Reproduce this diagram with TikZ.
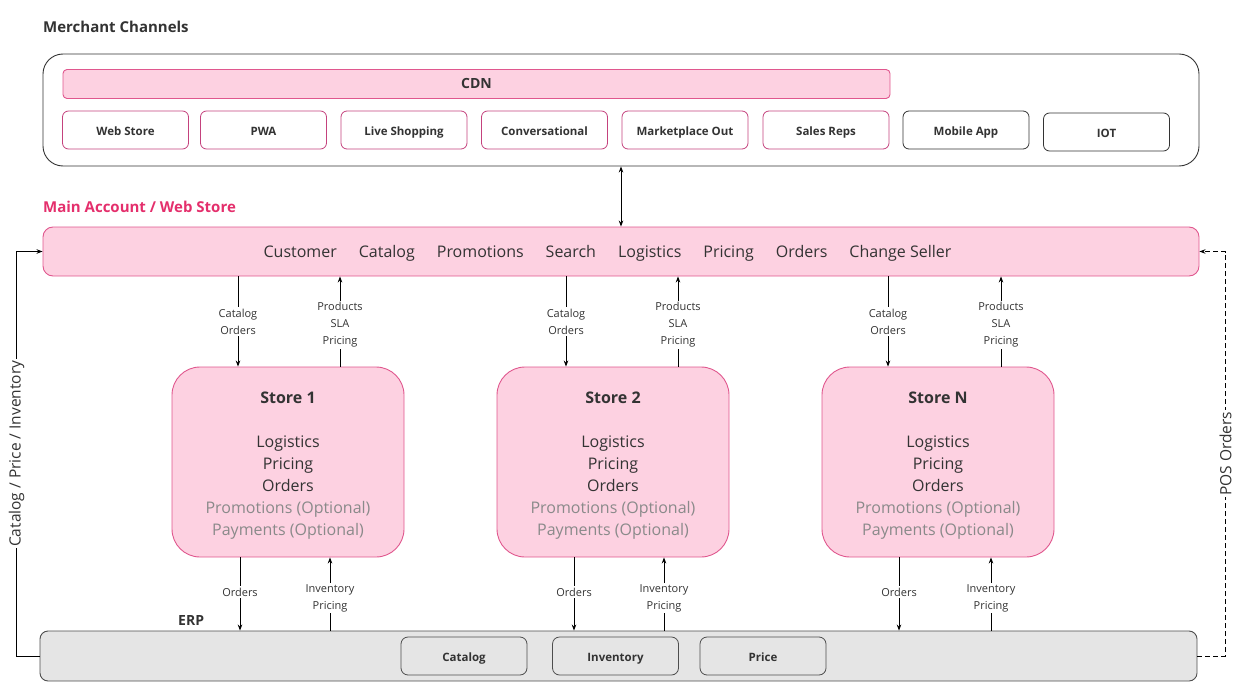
\documentclass[tikz,border=0pt]{standalone}
\usepackage{fontspec}
\setmainfont{Open Sans}
\usetikzlibrary{arrows.meta}
\definecolor{pinkfill}{HTML}{FDD1E1}
\definecolor{pinkline}{HTML}{E0578E}
\definecolor{chanline}{HTML}{C4427D}
\definecolor{titlepink}{HTML}{E42F6C}
\definecolor{textdark}{HTML}{333333}
\definecolor{textgray}{HTML}{8A8A8A}
\definecolor{erpfill}{HTML}{E5E5E5}
\definecolor{erpline}{HTML}{4D4D4D}
\begin{document}
\begin{tikzpicture}[x=1pt,y=-1pt,
  chanbox/.style={draw=chanline,fill=white,rounded corners=6pt,line width=0.8pt,
    minimum width=126pt,minimum height=38pt,inner sep=0pt,text height=10.5pt,text depth=0pt,
    font=\fontsize{11.5}{14}\selectfont\bfseries,text=textdark},
  pinkbar/.style={draw=pinkline,fill=pinkfill,line width=0.9pt,inner sep=0pt},
  storebox/.style={pinkbar,rounded corners=28pt,minimum width=232pt,minimum height=190pt},
  storetext/.style={align=center,inner sep=0pt,font=\fontsize{16}{22}\selectfont,text=textdark},
  erpbox/.style={draw=erpline,fill=erpfill,rounded corners=7pt,line width=0.8pt,
    minimum width=126pt,minimum height=38pt,inner sep=0pt,text height=10.5pt,text depth=0pt,
    font=\fontsize{11.5}{14}\selectfont\bfseries,text=textdark},
  title/.style={anchor=base west,inner sep=0pt,font=\fontsize{15}{18}\selectfont\bfseries},
  flow/.style={font=\fontsize{11}{17}\selectfont,text=textdark,fill=white,align=center,inner sep=1.5pt},
  side/.style={flow,rotate=90,font=\fontsize{15.5}{18}\selectfont},
  arr/.style={line width=0.8pt,-{Stealth[length=6pt,width=4.5pt]}},
]
\useasboundingbox (0,0) rectangle (1242,690);

% merchant channels
\node[title,text=textdark] (mctitle) at (43,33) {Merchant Channels};
\node[draw=black!80,rounded corners=20pt,line width=0.9pt,minimum width=1156pt,minimum height=112pt] (chan) at (621,110) {};
\node[pinkbar,rounded corners=4pt,minimum width=827pt,minimum height=29pt,
  font=\fontsize{14}{16}\selectfont\bfseries,text=textdark] (cdn) at (476.5,84) {CDN};
\foreach \n/\t/\x in {web/Web Store/125.5,pwa/PWA/263.5,live/Live Shopping/404,
    conv/Conversational/544.5,mkt/Marketplace Out/685,sales/Sales Reps/826}
  \node[chanbox] (\n) at (\x,130) {\t};
\node[chanbox,draw=black!80] (mobile) at (966,130) {Mobile App};
\node[chanbox,draw=black!80] (iot) at (1106.5,132) {IOT};

% main account
\node[title,text=titlepink] (matitle) at (43,212) {Main Account / Web Store};
\node[pinkbar,rounded corners=10pt,minimum width=1156pt,minimum height=49pt] (main) at (621,251.5) {};
\node[inner sep=0pt,font=\fontsize{16}{19}\selectfont,text=textdark] (mods) at (607.5,253.5)
  {Customer\hspace{22pt}Catalog\hspace{22pt}Promotions\hspace{22pt}Search\hspace{22pt}Logistics\hspace{22pt}Pricing\hspace{22pt}Orders\hspace{22pt}Change Seller};
\coordinate (cdnx) at (621,0);
\draw[line width=0.8pt,{Stealth[length=6pt,width=4.5pt]}-{Stealth[length=6pt,width=4.5pt]}] (chan.south -| cdnx) -- (main.north -| cdnx);

% stores
\foreach \n/\t/\x in {s1/Store 1/288,s2/Store 2/613,sN/Store N/938}{
  \node[storebox] (\n) at (\x,462) {};
  \node[storetext] (\n t) at (\x,466) {\textbf{\t}\\[22pt]Logistics\\Pricing\\Orders\\
    \textcolor{textgray}{Promotions (Optional)}\\\textcolor{textgray}{Payments (Optional)}};
}

% erp
\node[title,text=textdark,font=\fontsize{14}{16}\selectfont\bfseries] (erptitle) at (178,625) {ERP};
\node[draw=erpline,fill=erpfill,rounded corners=8pt,line width=0.9pt,minimum width=1157pt,minimum height=50pt] (erp) at (618.5,656) {};
\node[erpbox] (ecat) at (464,656) {Catalog};
\node[erpbox] (einv) at (615.5,656) {Inventory};
\node[erpbox] (eprice) at (763,656) {Price};

% flows between main, stores and erp
\foreach \s/\a/\b/\c/\d in {s1/238/340/240/330,s2/566/678/574/664,sN/888/1001/899/991}{
  \coordinate (da) at (\a,0);
  \coordinate (ub) at (\b,0);
  \coordinate (dc) at (\c,0);
  \coordinate (ud) at (\d,0);
  \draw[arr] (main.south -| da) -- node[flow] {Catalog\\Orders} (\s.north -| da);
  \draw[arr] (\s.north -| ub) -- node[flow,yshift=-3pt] {Products\\SLA\\Pricing} (main.south -| ub);
  \draw[arr] (\s.south -| dc) -- node[flow,yshift=2pt] {Orders} (erp.north -| dc);
  \draw[arr] (erp.north -| ud) -- node[flow,yshift=-4pt] {Inventory\\Pricing} (\s.south -| ud);
}

% side feeds
\draw[arr] (erp.west) -- ++(-23,0) |- node[pos=0.25,side] {Catalog / Price / Inventory} (main.west);
\draw[arr,dashed,dash pattern=on 5pt off 3pt] (erp.east) -- ++(28,0) |- node[pos=0.25,side] {POS Orders} (main.east);
\end{tikzpicture}
\end{document}
